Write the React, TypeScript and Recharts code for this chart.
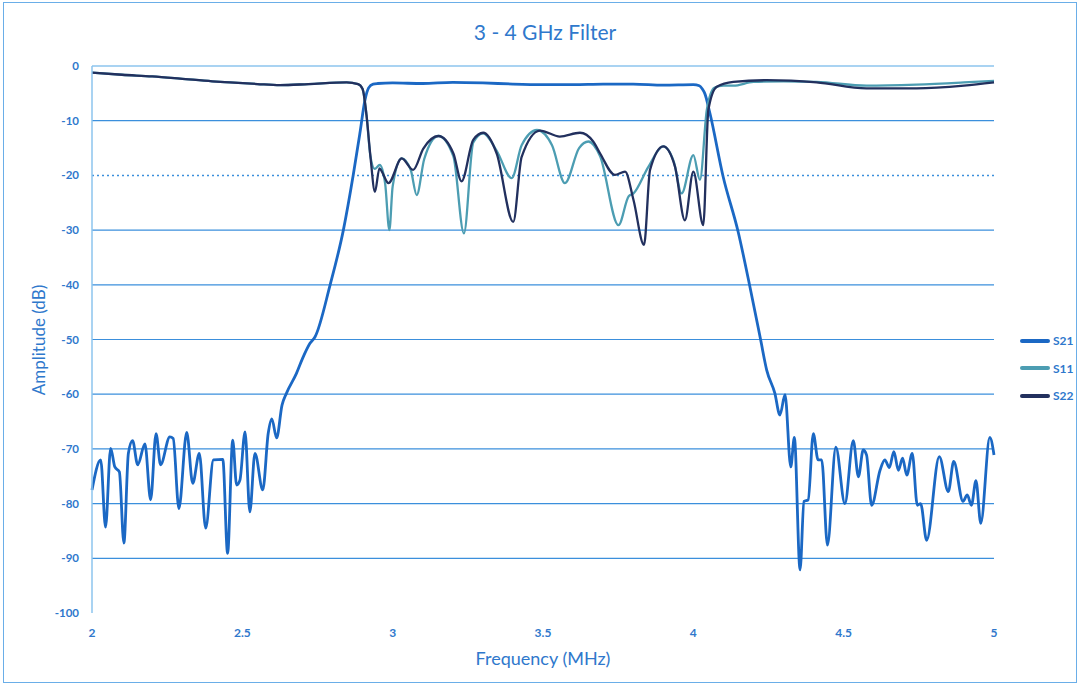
import React from 'react'
import { LineChart, Line, XAxis, YAxis, ReferenceLine } from 'recharts'

// S21 (transmission)
const s21Freq = [
  2.0, 2.029, 2.045, 2.062, 2.076, 2.091, 2.106, 2.121, 2.135, 2.152, 2.176, 2.195, 2.213, 2.228,
  2.259, 2.27, 2.289, 2.315, 2.335, 2.357, 2.378, 2.404, 2.435, 2.451, 2.468, 2.481, 2.492, 2.509,
  2.525, 2.542, 2.568, 2.586, 2.598, 2.614, 2.632, 2.647, 2.68, 2.7, 2.725, 2.742, 2.792, 2.836,
  2.869, 2.891, 2.908, 2.92, 2.935, 2.95, 3.0, 3.1, 3.2, 3.3, 3.4, 3.5, 3.6, 3.7, 3.8, 3.9, 4.0,
  4.02, 4.03, 4.038, 4.055, 4.099, 4.149, 4.188, 4.224, 4.244, 4.271, 4.288, 4.305, 4.324, 4.336,
  4.355, 4.368, 4.382, 4.399, 4.415, 4.427, 4.446, 4.474, 4.504, 4.532, 4.549, 4.565, 4.576, 4.593,
  4.621, 4.637, 4.652, 4.667, 4.682, 4.696, 4.71, 4.728, 4.745, 4.756, 4.776, 4.818, 4.848, 4.866,
  4.897, 4.911, 4.925, 4.94, 4.956, 4.986, 5.0,
]
const s21Db = [
  -77.5, -72.0, -84.3, -69.9, -73.3, -74.2, -87.2, -70.8, -68.5, -72.9, -69.1, -79.3, -67.2, -72.9,
  -67.8, -68.1, -80.9, -67.0, -76.3, -70.8, -84.5, -72.0, -71.9, -89.1, -68.4, -76.6, -75.7, -66.9,
  -81.5, -70.8, -77.5, -67.2, -64.5, -68.0, -62.0, -59.8, -56.2, -53.5, -50.7, -49.5, -40.0, -30.0,
  -19.9, -12.3, -6.2, -4.0, -3.3, -3.2, -3.1, -3.2, -3.0, -3.1, -3.3, -3.4, -3.4, -3.3, -3.3, -3.5, -3.4,
  -3.6, -4.2, -5.0, -8.6, -20.2, -30.3, -40.3, -50.1, -55.6, -59.8, -63.8, -60.1, -73.3, -67.9,
  -92.1, -79.6, -79.3, -67.2, -72.0, -72.0, -87.6, -69.7, -80.0, -68.5, -75.1, -70.2, -71.1, -80.3,
  -73.9, -72.0, -73.4, -70.5, -73.9, -71.7, -74.8, -70.8, -80.3, -80.0, -86.7, -71.4, -77.8, -72.3,
  -79.6, -78.4, -80.3, -75.8, -83.6, -67.9, -71.1,
]

// S11 (input reflection)
const s11Freq = [
  2.0, 2.1, 2.2, 2.293, 2.4, 2.459, 2.55, 2.625, 2.72, 2.847, 2.885, 2.9, 2.913, 2.926, 2.94,
  2.957, 2.975, 2.989, 3.0, 3.03, 3.06, 3.08, 3.105, 3.152, 3.202, 3.237, 3.268, 3.301, 3.346,
  3.396, 3.429, 3.48, 3.53, 3.573, 3.62, 3.651, 3.69, 3.751, 3.785, 3.801, 3.85, 3.9, 3.935, 3.961,
  4.0, 4.022, 4.045, 4.07, 4.1, 4.133, 4.2, 4.3, 4.41, 4.576, 4.742, 4.9, 5.0,
]
const s11Db = [
  -1.2, -1.6, -1.9, -2.3, -2.8, -3.0, -3.3, -3.5, -3.3, -3.0, -3.3, -4.2, -9.0, -16.5, -18.8,
  -18.1, -21.5, -30.0, -22.0, -16.9, -19.0, -23.6, -17.0, -12.8, -16.5, -30.6, -14.0, -12.3, -15.5,
  -20.5, -14.5, -11.7, -14.5, -21.4, -15.0, -13.8, -16.5, -29.1, -23.8, -23.3, -18.5, -14.7, -17.5, -23.3,
  -16.3, -20.8, -8.0, -4.0, -3.6, -3.6, -2.9, -2.8, -2.9, -3.6, -3.4, -3.0, -2.7,
]

// S22 (output reflection)
const s22Freq = [
  2.0, 2.1, 2.2, 2.293, 2.4, 2.459, 2.55, 2.625, 2.72, 2.847, 2.885, 2.9, 2.913, 2.926, 2.941,
  2.956, 2.964, 2.986, 3.03, 3.068, 3.102, 3.152, 3.202, 3.229, 3.268, 3.301, 3.346, 3.401, 3.429,
  3.49, 3.556, 3.623, 3.667, 3.69, 3.739, 3.773, 3.801, 3.836, 3.856, 3.9, 3.939, 3.972, 4.0, 4.033,
  4.05, 4.078, 4.133, 4.244, 4.41, 4.576, 4.742, 4.9, 5.0,
]
const s22Db = [
  -1.2, -1.6, -1.9, -2.3, -2.8, -3.0, -3.3, -3.5, -3.3, -3.0, -3.3, -4.2, -9.0, -16.5, -23.0,
  -18.7, -19.3, -21.4, -16.9, -19.0, -15.1, -12.8, -16.0, -21.1, -13.5, -12.2, -16.0, -28.5, -16.6,
  -11.8, -12.9, -12.2, -13.8, -16.0, -19.9, -19.3, -24.5, -32.7, -19.0, -14.7, -18.4, -28.2, -19.3, -29.1,
  -8.0, -3.8, -2.9, -2.6, -3.0, -4.1, -4.1, -3.6, -3.0,
]

const xTicks = [2, 2.5, 3, 3.5, 4, 4.5, 5]
const yTicks = [0, -10, -20, -30, -40, -50, -60, -70, -80, -90, -100]
const solidGrid = [-10, -30, -40, -50, -60, -70, -80, -90]
const dottedGrid = [-20]

const toRows = (freq: number[], db: number[]) => freq.map((f, i) => ({ f, db: db[i] }))

const series = [
  { name: 'S21', color: '#1b68c4', width: 2.8, data: toRows(s21Freq, s21Db) },
  { name: 'S11', color: '#4c9db2', width: 2.3, data: toRows(s11Freq, s11Db) },
  { name: 'S22', color: '#22305e', width: 2.3, data: toRows(s22Freq, s22Db) },
]

const textBlue = '#2f78cc'
const gridBlue = '#3b8fdc'
const axisBlue = '#8cc4ee'
const font = 'Lato, "Open Sans", sans-serif'

function LegendBox() {
  return (
    <div style={{ position: 'absolute', left: 1020, top: 327, fontFamily: font }}>
      {series.map((s) => (
        <div key={s.name} style={{ display: 'flex', alignItems: 'center', height: 27.5 }}>
          <div style={{ width: 30, height: 4, background: s.color, borderRadius: 2 }} />
          <span style={{ marginLeft: 3, fontSize: 12, fontWeight: 700, color: textBlue }}>{s.name}</span>
        </div>
      ))}
    </div>
  )
}

export default function App() {
  return (
    <div style={{ position: 'absolute', left: 0, top: 0, width: 1080, height: 685, background: '#fff', fontFamily: font }}>
      <div style={{ position: 'absolute', left: 3, top: 2, right: 3, bottom: 2, border: '1.5px solid #6aaee8' }} />
      <div style={{ position: 'absolute', left: 0, width: 1090, top: 19, textAlign: 'center', fontSize: 21, color: textBlue }}>
        3 - 4 GHz Filter
      </div>
      <div style={{ position: 'absolute', left: 0, width: 1086, top: 647, textAlign: 'center', fontSize: 18, color: textBlue }}>
        Frequency (MHz)
      </div>
      <div
        style={{
          position: 'absolute', left: 38, top: 340, fontSize: 17, color: textBlue, whiteSpace: 'nowrap',
          transform: 'translate(-50%, -50%) rotate(-90deg)',
        }}
      >
        Amplitude (dB)
      </div>
      <LineChart width={1080} height={685} margin={{ top: 66, right: 86, bottom: 42, left: 32 }} style={{ position: 'absolute', left: 0, top: 0 }}>
        <XAxis
          type="number"
          dataKey="f"
          domain={[2, 5]}
          ticks={xTicks}
          allowDuplicatedCategory={false}
          axisLine={false}
          tickLine={false}
          tickMargin={9}
          height={30}
          tick={{ fontSize: 12, fontWeight: 700, fill: textBlue, fontFamily: font }}
        />
        <YAxis
          type="number"
          domain={[-100, 0]}
          ticks={yTicks}
          width={60}
          axisLine={{ stroke: axisBlue, strokeWidth: 1.5 }}
          tickLine={false}
          tickMargin={7}
          tick={{ fontSize: 11.5, fontWeight: 700, fill: textBlue, fontFamily: font }}
        />
        {solidGrid.map((v) => (
          <ReferenceLine key={v} y={v} stroke={gridBlue} strokeWidth={1.2} />
        ))}
        {dottedGrid.map((v) => (
          <ReferenceLine key={v} y={v} stroke={gridBlue} strokeWidth={1.5} strokeDasharray="2 3" />
        ))}
        <ReferenceLine y={0} stroke={axisBlue} strokeWidth={1.5} />
        {series.map((s) => (
          <Line
            key={s.name}
            data={s.data}
            dataKey="db"
            name={s.name}
            type="monotone"
            stroke={s.color}
            strokeWidth={s.width}
            dot={false}
            activeDot={false}
            isAnimationActive={false}
          />
        ))}
      </LineChart>
      <LegendBox />
    </div>
  )
}
